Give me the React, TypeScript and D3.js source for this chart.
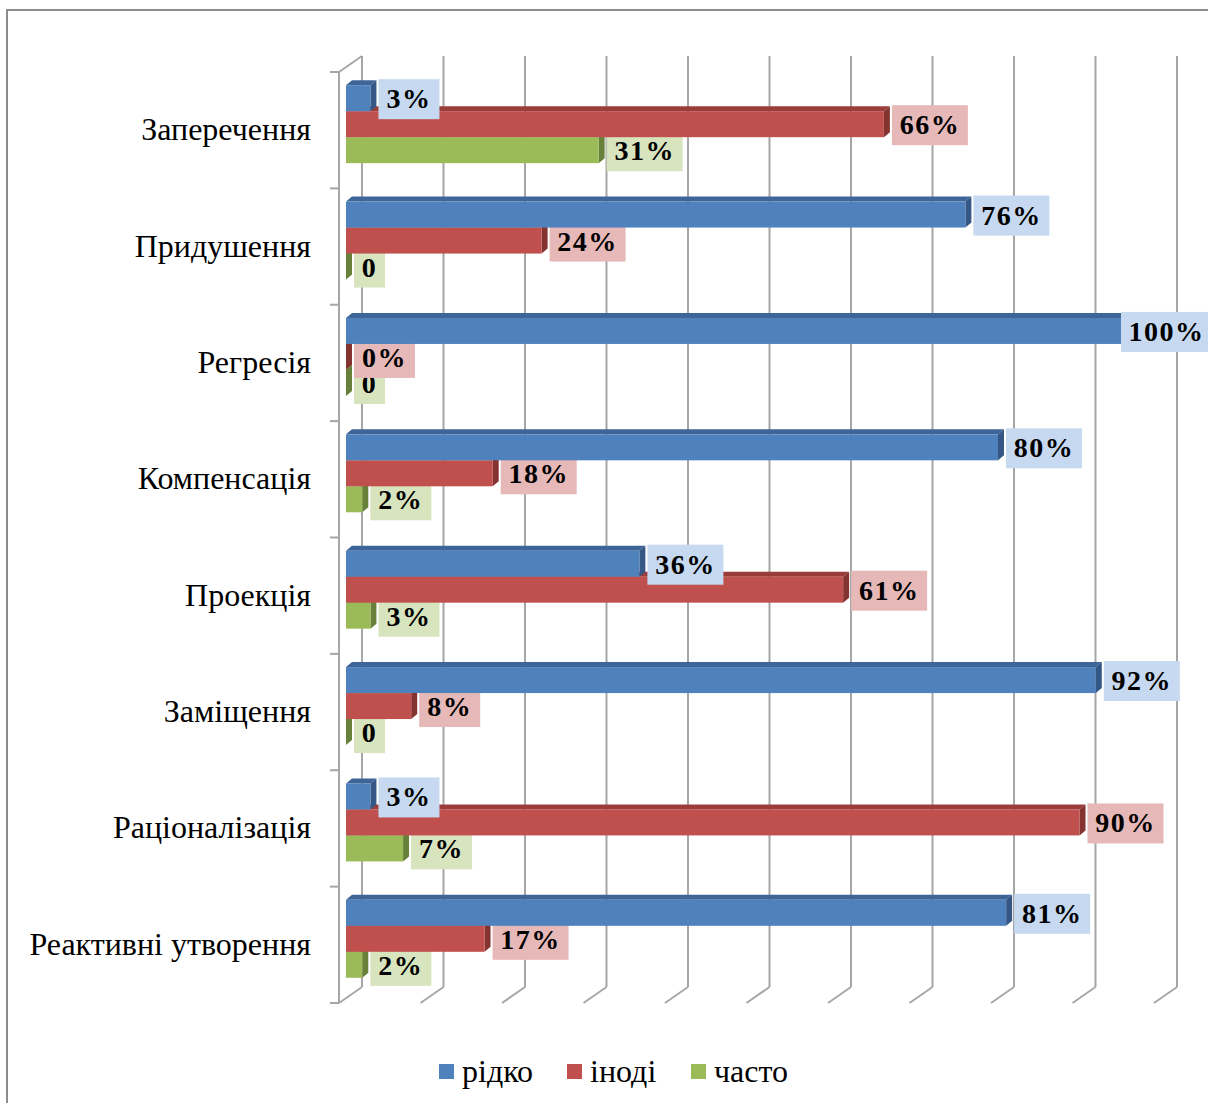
import React from 'react';
import * as d3 from 'd3';

const categories = [
  'Заперечення',
  'Придушення',
  'Регресія',
  'Компенсація',
  'Проекція',
  'Заміщення',
  'Раціоналізація',
  'Реактивні утворення',
];
const seriesNames = ['рідко', 'іноді', 'часто'];
const ridko = [3, 76, 100, 80, 36, 92, 3, 81];
const inodi = [66, 24, 0, 18, 61, 8, 90, 17];
const chasto = [31, 0, 0, 2, 3, 0, 7, 2];
const ridkoLabels = ['3%', '76%', '100%', '80%', '36%', '92%', '3%', '81%'];
const inodiLabels = ['66%', '24%', '0%', '18%', '61%', '8%', '90%', '17%'];
const chastoLabels = ['31%', '0', '0', '2%', '3%', '0', '7%', '2%'];
const xTicks = [0, 10, 20, 30, 40, 50, 60, 70, 80, 90, 100];

const W = 1208;
const H = 1103;
const frontLeft = 339;
const frontTop = 72;
const frontBottom = 1003;
const wallDx = 23;
const wallDy = 16;
const planeDx = 7;
const planeDy = 6;
const barDx = 6;
const barDy = 5;

const fills = ['#4f81bd', '#c0504d', '#9bbb59'];
const tops = ['#3d6597', '#9a3d3a', '#7a9644'];
const sides = ['#345785', '#843331', '#67803a'];
const labelBg = ['#c6d9f1', '#e6b9b8', '#d7e4bd'];

const serif = 'Liberation Serif, DejaVu Serif, serif';

const App: React.FC = () => {
  const x = d3.scaleLinear().domain([0, 100]).range([frontLeft, frontLeft + 815]);
  const y = d3
    .scaleBand<string>()
    .domain(categories)
    .range([frontTop, frontBottom])
    .paddingInner(0.33)
    .paddingOuter(0.165);
  const inner = d3
    .scaleBand<string>()
    .domain(seriesNames)
    .range([0, y.bandwidth()]);

  const values = [ridko, inodi, chasto];
  const labels = [ridkoLabels, inodiLabels, chastoLabels];
  const step = y.step();
  const boundaries = d3.range(categories.length + 1).map((i) => frontTop + i * step);

  const labelWidth = (t: string) => {
    let w = 0;
    for (const c of t) w += c === '%' ? 30 : 15;
    return w + 16;
  };

  // draw order: bottom series first so upper bars cover their top faces
  const order = [2, 1, 0];

  return (
    <svg
      width={W}
      height={H}
      style={{ position: 'absolute', left: 0, top: 0, background: '#fff' }}>
      <rect x={7} y={10} width={1240} height={1130} fill="#fff" stroke="#8c8c8c" strokeWidth={2} />

      {/* walls and grid */}
      <g stroke="#a6a6a6" strokeWidth={2} fill="none">
        {xTicks.map((t) => {
          const xb = x(t) + wallDx;
          return (
            <g key={t}>
              <line x1={xb} y1={frontTop - wallDy} x2={xb} y2={frontBottom - wallDy} />
              <line x1={xb} y1={frontBottom - wallDy} x2={xb - wallDx} y2={frontBottom} />
            </g>
          );
        })}
        <line x1={frontLeft} y1={frontTop} x2={frontLeft} y2={frontBottom} />
        <line x1={frontLeft} y1={frontTop} x2={frontLeft + wallDx} y2={frontTop - wallDy} />
        {boundaries.map((b, i) => (
          <line key={i} x1={frontLeft - 9} y1={b} x2={frontLeft} y2={b} />
        ))}
      </g>

      {/* category labels */}
      {categories.map((c) => (
        <text
          key={c}
          x={311}
          y={(y(c) ?? 0) + y.bandwidth() / 2 + 10}
          textAnchor="end"
          fontFamily={serif}
          fontSize={32}
          fill="#000">
          {c}
        </text>
      ))}

      {/* bars and labels, series by series */}
      {order.map((s) => (
        <g key={s}>
          {categories.map((c, i) => {
            const v = values[s][i];
            const y0 = (y(c) ?? 0) + (inner(seriesNames[s]) ?? 0) - planeDy;
            const h = inner.bandwidth();
            const x0 = x(0) + planeDx;
            const x1 = x(v) + planeDx;
            return (
              <g key={c}>
                <polygon
                  points={`${x0},${y0} ${x0 + barDx},${y0 - barDy} ${x1 + barDx},${y0 - barDy} ${x1},${y0}`}
                  fill={tops[s]}
                />
                <polygon
                  points={`${x1},${y0} ${x1 + barDx},${y0 - barDy} ${x1 + barDx},${y0 + h - barDy} ${x1},${y0 + h}`}
                  fill={sides[s]}
                />
                <rect x={x0} y={y0} width={x1 - x0} height={h} fill={fills[s]} />
              </g>
            );
          })}
          {categories.map((c, i) => {
            const v = values[s][i];
            const t = labels[s][i];
            const y0 = (y(c) ?? 0) + (inner(seriesNames[s]) ?? 0) - planeDy;
            const cy = y0 + inner.bandwidth() / 2 + 1;
            const w = labelWidth(t);
            const lx = Math.min(x(v) + planeDx + 8, W + 4 - w);
            return (
              <g key={'l' + c}>
                <rect x={lx} y={cy - 20} width={w} height={40} fill={labelBg[s]} />
                <text
                  x={lx + w / 2}
                  y={cy + 9}
                  textAnchor="middle"
                  fontFamily={serif}
                  fontWeight="bold"
                  fontSize={28}
                  letterSpacing={1.5}
                  fill="#000">
                  {t}
                </text>
              </g>
            );
          })}
        </g>
      ))}

      {/* legend */}
      {seriesNames.map((n, s) => {
        const lx = [439, 567, 691][s];
        return (
          <g key={n}>
            <rect x={lx} y={1064} width={15} height={15} fill={fills[s]} />
            <text x={lx + 23} y={1082} fontFamily={serif} fontSize={32} fill="#000">
              {n}
            </text>
          </g>
        );
      })}
    </svg>
  );
};

export default App;
